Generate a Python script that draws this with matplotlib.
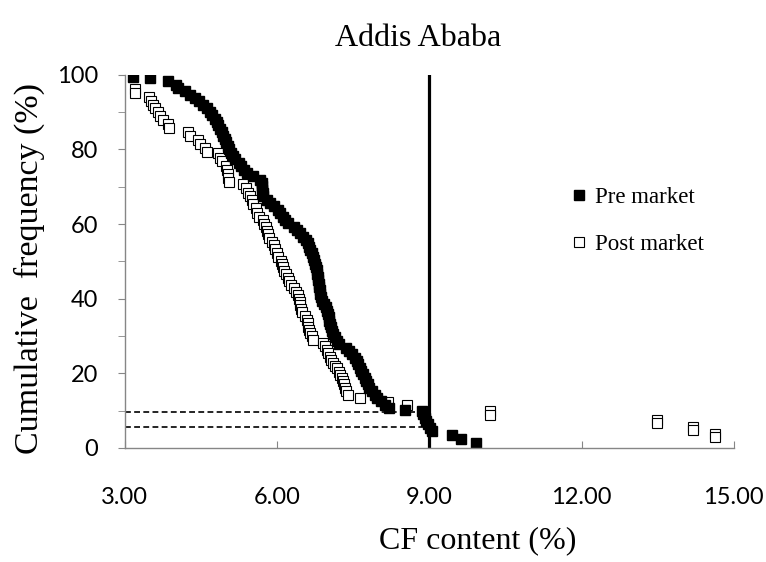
import matplotlib.pyplot as plt
from matplotlib.lines import Line2D

# pre market: CF content (%) and cumulative frequency (%)
pre_cf = [3.16, 3.49, 3.85, 4.00, 4.05, 4.18, 4.28, 4.38, 4.46, 4.54,
          4.61, 4.67, 4.72, 4.77, 4.81, 4.84, 4.87, 4.91, 4.94, 4.97,
          5.00, 5.03, 5.06, 5.10, 5.14, 5.18, 5.24, 5.29, 5.35, 5.40,
          5.52, 5.67, 5.70, 5.71, 5.71, 5.72, 5.73, 5.80, 5.86, 5.93,
          6.01, 6.06, 6.11, 6.16, 6.22, 6.33, 6.40, 6.46, 6.51, 6.56,
          6.60, 6.63, 6.65, 6.68, 6.70, 6.72, 6.74, 6.76, 6.78, 6.79,
          6.80, 6.81, 6.82, 6.83, 6.84, 6.85, 6.86, 6.88, 6.92, 6.96,
          6.99, 7.01, 7.02, 7.03, 7.05, 7.07, 7.09, 7.11, 7.14, 7.18,
          7.22, 7.35, 7.42, 7.48, 7.53, 7.57, 7.60, 7.63, 7.66, 7.70,
          7.73, 7.76, 7.79, 7.82, 7.87, 7.92, 7.97, 8.04, 8.12, 8.20,
          8.52, 8.86, 8.88, 8.91, 8.94, 8.97, 9.01, 9.06, 9.45, 9.62, 9.92]
pre_freq = [99.5, 99.0, 98.2, 97.3, 96.5, 95.6, 94.7, 93.8, 92.9, 92.0,
            91.0, 90.0, 89.1, 88.2, 87.3, 86.4, 85.5, 84.6, 83.7, 82.8,
            81.9, 81.0, 80.0, 79.1, 78.2, 77.3, 76.4, 75.5, 74.6, 73.7,
            72.8, 71.9, 71.0, 70.1, 69.2, 68.3, 67.4, 66.5, 65.6, 64.7,
            63.8, 62.9, 62.0, 61.1, 60.2, 59.3, 58.4, 57.5, 56.6, 55.7,
            54.8, 53.9, 53.0, 52.1, 51.2, 50.3, 49.4, 48.5, 47.6, 46.7,
            45.8, 44.9, 44.0, 43.1, 42.2, 41.3, 40.4, 39.5, 38.6, 37.7,
            36.8, 35.9, 35.0, 34.1, 33.2, 32.3, 31.4, 30.5, 29.6, 28.7,
            27.8, 26.9, 26.0, 25.1, 24.2, 23.3, 22.4, 21.5, 20.6, 19.7,
            18.8, 17.9, 17.0, 16.1, 15.2, 14.3, 13.4, 12.5, 11.6, 10.7,
            10.2, 9.8, 9.0, 8.1, 7.2, 6.3, 5.4, 4.5, 3.4, 2.5, 1.2]

# post market
post_cf = [3.20, 3.20, 3.48, 3.52, 3.55, 3.60, 3.65, 3.70, 3.76, 3.85,
           3.87, 4.24, 4.28, 4.44, 4.48, 4.58, 4.62, 4.83, 4.87, 4.91,
           5.00, 5.02, 5.03, 5.04, 5.05, 5.33, 5.38, 5.42, 5.46, 5.50,
           5.53, 5.58, 5.60, 5.65, 5.72, 5.75, 5.78, 5.80, 5.82, 5.84,
           5.90, 5.93, 5.96, 5.99, 6.02, 6.07, 6.09, 6.11, 6.13, 6.18,
           6.21, 6.24, 6.28, 6.33, 6.37, 6.41, 6.43, 6.45, 6.46, 6.48,
           6.50, 6.55, 6.58, 6.60, 6.61, 6.63, 6.65, 6.68, 6.70, 6.90,
           6.94, 6.98, 7.01, 7.04, 7.07, 7.10, 7.14, 7.18, 7.22, 7.24,
           7.27, 7.30, 7.31, 7.33, 7.35, 7.39, 7.63, 8.18, 8.56, 10.20,
           10.20, 13.48, 13.48, 14.19, 14.19, 14.63, 14.63]
post_freq = [96.2, 95.0, 94.0, 93.0, 92.0, 91.0, 90.0, 89.0, 88.0, 86.8,
             85.8, 84.7, 83.6, 82.6, 81.4, 80.4, 79.4, 79.0, 77.8, 76.8,
             75.5, 74.5, 73.5, 72.4, 71.3, 70.8, 69.6, 68.4, 67.4, 66.4,
             65.4, 64.2, 63.0, 62.0, 61.0, 60.0, 59.2, 58.2, 57.2, 56.3,
             55.3, 54.3, 53.2, 52.2, 51.2, 50.2, 49.4, 48.4, 47.5, 46.5,
             45.6, 44.6, 43.7, 42.8, 41.9, 41.0, 40.0, 39.0, 38.2, 37.3,
             36.4, 35.4, 34.4, 33.4, 32.4, 31.6, 30.8, 29.9, 29.0, 28.2,
             27.3, 26.3, 25.4, 24.4, 23.6, 22.8, 22.0, 21.4, 20.4, 19.6,
             18.8, 17.8, 17.0, 16.0, 15.2, 14.3, 13.4, 12.3, 11.4, 10.0,
             8.8, 7.6, 6.6, 5.7, 4.8, 3.7, 2.8]

# limit line and the two read-off levels
limit_cf = 9.0
pre_level = 5.5
post_level = 9.6

x_ticks = [3, 6, 9, 12, 15]
y_ticks = [0, 20, 40, 60, 80, 100]

serif = "Liberation Serif"
gray = "#868686"
ms = 6.8

fig = plt.figure(figsize=(7.66, 5.62), dpi=100)
ax = fig.add_axes([0.163, 0.203, 0.795, 0.664])

ax.plot(post_cf, post_freq, "s", ms=ms, mfc="white", mec="black", mew=0.8, ls="none")
ax.plot(pre_cf, pre_freq, "s", ms=ms, color="black", ls="none")

ax.plot([limit_cf, limit_cf], [0, 100.5], color="black", lw=2.3)
ax.plot([3, limit_cf], [pre_level, pre_level], color="black", lw=1.2, ls=(0, (3.5, 2)))
ax.plot([3, limit_cf], [post_level, post_level], color="black", lw=1.2, ls=(0, (3.5, 2)))

ax.set_xlim(3, 15)
ax.set_ylim(0, 100)
ax.set_xticks(x_ticks)
ax.set_xticklabels(["%.2f" % v for v in x_ticks])
ax.set_yticks(y_ticks)
ax.set_yticks(range(10, 100, 20), minor=True)

for side in ["top", "right"]:
    ax.spines[side].set_visible(False)
for side in ["left", "bottom"]:
    ax.spines[side].set_color(gray)
    ax.spines[side].set_linewidth(1.0)

ax.tick_params(axis="x", direction="in", length=5, color=gray, pad=28, labelsize=17)
ax.tick_params(axis="y", which="both", direction="out", length=5, color=gray, pad=14, labelsize=17)
for lab in ax.get_xticklabels() + ax.get_yticklabels():
    lab.set_family("Lato")

fig.text(418 / 766, 1 - 38 / 562, "Addis Ababa", family=serif, fontsize=23, ha="center", va="center")
fig.text(478 / 766, 1 - 541 / 562, "CF content (%)", family=serif, fontsize=23, ha="center", va="center")
fig.text(29 / 766, 1 - 268 / 562, "Cumulative  frequency (%)", family=serif, fontsize=24.5,
         ha="center", va="center", rotation=90)

handles = [Line2D([], [], marker="s", ms=ms, color="black", ls="none"),
           Line2D([], [], marker="s", ms=ms, mfc="white", mec="black", mew=0.8, ls="none")]
fig.legend(handles, ["Pre market", "Post market"], loc="center left",
           bbox_to_anchor=(551 / 766, 1 - 221 / 562), frameon=False,
           prop={"family": serif, "size": 16.5}, handlelength=0.6,
           handletextpad=0.4, labelspacing=1.1)

fig.savefig("out.png", dpi=100)
